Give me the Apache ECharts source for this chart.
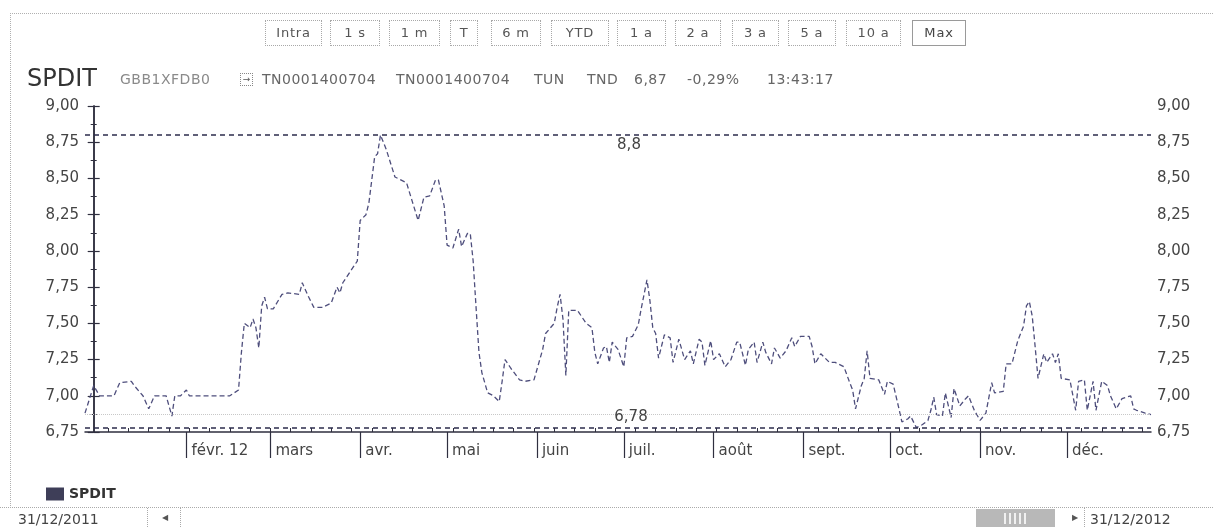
<!DOCTYPE html>
<html>
<head>
<meta charset="utf-8">
<script src="https://cdn.jsdelivr.net/npm/echarts@6/dist/echarts.min.js"></script>
<style>
  html, body { margin:0; padding:0; background:#fff; }
  #wrap { position:relative; width:1213px; height:527px; overflow:hidden; font-family:"DejaVu Sans", sans-serif; }
  #chart { position:absolute; left:0; top:0; width:1213px; height:527px; }
  .abs { position:absolute; white-space:nowrap; }
  .btn { position:absolute; top:20px; height:26px; border:1px dotted #a8a8a8; box-sizing:border-box; color:#555; font-size:13px; letter-spacing:0.8px; line-height:24px; text-align:center; }
  .hdr { position:absolute; top:72px; font-size:14px; line-height:14px; color:#666; letter-spacing:0.5px; white-space:nowrap; }
</style>
</head>
<body>
<div id="wrap">
  <div id="chart"></div>
  <div id="overlay"></div>
</div>
<script>
// ---- data (day of year 2012: 1 = 1 Jan 2012, 0 = 31 Dec 2011) ----
const dayOfYear = [
  -3, 0, 2, 7, 9, 13, 14, 17, 19, 21, 25, 27, 28, 30, 32, 33, 47, 50, 51, 52,
  54, 55, 56, 57, 58, 59, 60, 62, 65, 67, 71, 72, 74, 76, 79, 82, 84, 85, 86, 89,
  91, 92, 94, 95, 96, 97, 98, 99, 101, 104, 106, 108, 110, 112, 114, 116, 118, 119, 121, 122,
  124, 126, 127, 129, 130, 131, 132, 133, 134, 136, 138, 140, 141, 142, 144, 147, 149, 152, 155, 156,
  159, 160, 161, 162, 163, 164, 166, 167, 170, 172, 173, 174, 176, 177, 178, 179, 181, 183, 184, 186,
  188, 189, 191, 192, 193, 194, 195, 197, 199, 200, 202, 203, 204, 206, 207, 209, 210, 211, 213, 214,
  216, 218, 220, 222, 223, 225, 226, 228, 229, 231, 232, 234, 235, 237, 239, 241, 242, 244, 247, 248,
  249, 251, 254, 256, 259, 261, 262, 263, 265, 266, 267, 268, 271, 273, 274, 276, 278, 279, 281, 282,
  284, 286, 288, 289, 290, 291, 293, 294, 296, 297, 299, 301, 302, 304, 306, 308, 310, 311, 314, 315,
  317, 319, 321, 322, 323, 324, 325, 326, 328, 329, 331, 332, 333, 334, 337, 339, 340, 342, 343, 345,
  346, 348, 350, 351, 353, 355, 358, 359, 360, 363, 365
];
const price = [
  6.88, 7.07, 7.00, 7.00, 7.09, 7.10, 7.07, 7.00, 6.91, 7.00, 7.00, 6.86, 7.00, 7.00, 7.04, 7.00, 7.00, 7.04, 7.30, 7.50,
  7.47, 7.53, 7.47, 7.33, 7.62, 7.68, 7.60, 7.60, 7.70, 7.71, 7.70, 7.78, 7.69, 7.61, 7.61, 7.64, 7.75, 7.71, 7.78, 7.87,
  7.93, 8.21, 8.25, 8.33, 8.49, 8.65, 8.67, 8.80, 8.70, 8.51, 8.49, 8.47, 8.34, 8.21, 8.37, 8.38, 8.49, 8.49, 8.31, 8.04,
  8.02, 8.15, 8.03, 8.12, 8.12, 7.93, 7.61, 7.30, 7.16, 7.02, 7.00, 6.96, 7.10, 7.25, 7.19, 7.11, 7.10, 7.11, 7.32, 7.43,
  7.50, 7.61, 7.70, 7.53, 7.14, 7.59, 7.59, 7.59, 7.50, 7.47, 7.30, 7.22, 7.33, 7.34, 7.23, 7.37, 7.32, 7.20, 7.40, 7.41,
  7.49, 7.60, 7.80, 7.66, 7.47, 7.43, 7.26, 7.42, 7.40, 7.23, 7.39, 7.32, 7.25, 7.31, 7.22, 7.39, 7.37, 7.21, 7.38, 7.25,
  7.29, 7.20, 7.25, 7.37, 7.37, 7.21, 7.32, 7.37, 7.23, 7.37, 7.30, 7.22, 7.33, 7.26, 7.31, 7.40, 7.34, 7.41, 7.41, 7.34,
  7.22, 7.29, 7.23, 7.23, 7.20, 7.09, 7.04, 6.91, 7.07, 7.12, 7.31, 7.12, 7.11, 7.01, 7.10, 7.08, 6.91, 6.82, 6.84, 6.86,
  6.78, 6.80, 6.83, 6.90, 6.99, 6.87, 6.86, 7.02, 6.85, 7.05, 6.93, 6.98, 7.00, 6.90, 6.83, 6.88, 7.09, 7.02, 7.03, 7.22,
  7.22, 7.38, 7.48, 7.62, 7.65, 7.55, 7.34, 7.12, 7.29, 7.23, 7.29, 7.23, 7.29, 7.12, 7.11, 6.90, 7.10, 7.11, 6.90, 7.10,
  6.90, 7.10, 7.07, 7.00, 6.91, 6.98, 7.00, 6.91, 6.90, 6.88, 6.87
];
const monthStartDays = [32, 61, 92, 122, 153, 183, 214, 245, 275, 306, 336];
const monthLabels = ['févr. 12', 'mars', 'avr.', 'mai', 'juin', 'juil.', 'août', 'sept.', 'oct.', 'nov.', 'déc.'];
const weekTickDays = [5, 12, 19, 26, 33, 40, 47, 54, 61, 68, 75, 82, 89, 96, 103, 110, 117, 124, 131, 138,
  145, 152, 159, 166, 173, 180, 187, 194, 201, 208, 215, 222, 229, 236, 243, 250, 257, 264, 271, 278,
  285, 292, 299, 306, 313, 320, 327, 334, 341, 348, 355, 362];
const rangeButtons = ['Intra', '1 s', '1 m', 'T', '6 m', 'YTD', '1 a', '2 a', '3 a', '5 a', '10 a', 'Max'];
const headerInfo = ['GBB1XFDB0', 'TN0001400704', 'TN0001400704', 'TUN', 'TND', '6,87', '-0,29%', '13:43:17'];
const seriesName = 'SPDIT';
const dateStart = '31/12/2011', dateEnd = '31/12/2012';

// ---- layout (styles / positions) ----
const btnBoxes = [[265,322],[330,380],[389,440],[450,478],[491,541],[551,609],[617,666],[675,721],[732,779],[788,836],[846,901],[912,966]];
const hdrLefts = [120, 262, 396, 534, 587, 634, 687, 767];
const ov = document.getElementById('overlay');
let html = '';
// outer dotted frame
html += '<div class="abs" style="left:10px;top:13px;width:1210px;height:494px;border-left:1px dotted #b0b0b0;border-top:1px dotted #b0b0b0;"></div>';
rangeButtons.forEach((t, i) => {
  const b = btnBoxes[i];
  const sel = t === 'Max';
  html += `<div class="btn" style="left:${b[0]}px;width:${b[1]-b[0]}px;${sel ? 'border:1px solid #9a9a9a;color:#444;' : ''}">${t}</div>`;
});
html += `<div class="abs" style="left:27px;top:66px;font-size:24px;line-height:24px;color:#333;">${seriesName}</div>`;
headerInfo.forEach((t, i) => {
  const col = i === 0 ? '#8a8a8a' : '#666';
  html += `<div class="hdr" style="left:${hdrLefts[i]}px;color:${col};">${t}</div>`;
});
html += '<div class="abs" style="left:240px;top:73px;width:11px;height:11px;border:1px dotted #888;font-size:9px;line-height:11px;text-align:center;color:#555;">&#8594;</div>';
// footer
html += '<div class="abs" style="left:0;top:507px;width:1213px;height:20px;border-top:1px dotted #aaa;"></div>';
html += `<div class="abs" style="left:18px;top:512px;font-size:14px;line-height:14px;color:#444;">${dateStart}</div>`;
html += '<div class="abs" style="left:147px;top:508px;height:19px;border-left:1px dotted #aaa;"></div>';
html += '<div class="abs" style="left:162px;top:513px;font-size:8px;line-height:10px;color:#555;">&#9664;</div>';
html += '<div class="abs" style="left:180px;top:508px;height:19px;border-left:1px dotted #aaa;"></div>';
html += '<div class="abs" style="left:976px;top:509px;width:79px;height:18px;background:#b8b8b8;"></div>';
for (let k = 0; k < 5; k++) {
  html += `<div class="abs" style="left:${1004 + k*5}px;top:513px;width:2px;height:11px;background:#f0f0f0;"></div>`;
}
html += '<div class="abs" style="left:1072px;top:513px;font-size:8px;line-height:10px;color:#555;">&#9654;</div>';
html += '<div class="abs" style="left:1084px;top:508px;height:19px;border-left:1px dotted #aaa;"></div>';
html += `<div class="abs" style="left:1090px;top:512px;font-size:14px;line-height:14px;color:#444;">${dateEnd}</div>`;
ov.innerHTML = html;

const FONT = 'DejaVu Sans';
const AX = '#2f2f3f';
const fmtY = v => v.toFixed(2).replace('.', ',');
const fmtMark = p => String(parseFloat(p.value)).replace('.', ',');
const lastPrice = price[price.length - 1];

const yAxisBase = {
  type: 'value', min: 6.75, max: 9, interval: 0.25,
  axisLine: { show: true, lineStyle: { color: AX, width: 1.5 } },
  axisTick: { show: true, length: 6, lineStyle: { color: AX, width: 1.2 } },
  minorTick: { show: true, splitNumber: 2, length: 3, lineStyle: { color: AX, width: 1 } },
  splitLine: { show: false },
  axisLabel: { formatter: fmtY, color: '#444', fontFamily: FONT, fontSize: 15, margin: 6 }
};

const chart = echarts.init(document.getElementById('chart'), null, { renderer: 'canvas' });
chart.setOption({
  animation: false,
  backgroundColor: 'transparent',
  grid: { left: 85, right: 62, top: 106, bottom: 95, containLabel: false },
  legend: {
    data: [seriesName], left: 41, top: 482, icon: 'rect', itemWidth: 18, itemHeight: 13, itemGap: 5,
    itemStyle: { color: '#3e3e58', borderWidth: 0 },
    textStyle: { fontFamily: FONT, fontSize: 14, fontWeight: 'bold', color: '#333' }
  },
  xAxis: [
    {
      type: 'value', min: -3, max: 365, position: 'bottom',
      axisLine: { show: true, onZero: false, lineStyle: { color: AX, width: 1.5 } },
      axisTick: { show: true, customValues: monthStartDays, length: 26, lineStyle: { color: AX, width: 1.2 } },
      axisLabel: {
        customValues: monthStartDays, align: 'left', margin: 12, padding: [0, 0, 0, 5],
        color: '#444', fontFamily: FONT, fontSize: 15,
        formatter: v => monthLabels[monthStartDays.indexOf(v)] || ''
      },
      splitLine: { show: false }
    },
    {
      type: 'value', min: -3, max: 365, position: 'bottom',
      axisLine: { show: false, onZero: false },
      axisTick: { show: true, inside: true, customValues: weekTickDays, length: 4, lineStyle: { color: AX, width: 1 } },
      axisLabel: { show: false },
      splitLine: { show: false }
    }
  ],
  yAxis: [
    Object.assign({}, yAxisBase, { position: 'left' }),
    Object.assign({}, yAxisBase, { position: 'right' })
  ],
  series: [{
    name: seriesName,
    type: 'line',
    xAxisIndex: 0, yAxisIndex: 0,
    data: dayOfYear.map((d, i) => [d, price[i]]),
    showSymbol: false, symbol: 'none',
    lineStyle: { color: '#4e4e7c', width: 1.3, type: [5, 3] },
    itemStyle: { color: '#4e4e7c' },
    markLine: {
      symbol: 'none', silent: true, animation: false,
      data: [
        { type: 'max', lineStyle: { color: '#2c2c4c', width: 1.6, type: [5, 4] },
          label: { show: true, position: 'insideMiddleBottom', formatter: fmtMark, color: '#444', fontFamily: FONT, fontSize: 15, padding: [0, 0, 0, 22], distance: 3 } },
        { type: 'min', lineStyle: { color: '#2c2c4c', width: 1.6, type: [5, 4] },
          label: { show: true, position: 'insideMiddleTop', formatter: fmtMark, color: '#444', fontFamily: FONT, fontSize: 15, padding: [0, 0, 0, 26], distance: 3 } },
        { yAxis: lastPrice, lineStyle: { color: '#c8c8c8', width: 1, type: 'dotted' }, label: { show: false } }
      ]
    }
  }]
});
</script>
</body>
</html>
